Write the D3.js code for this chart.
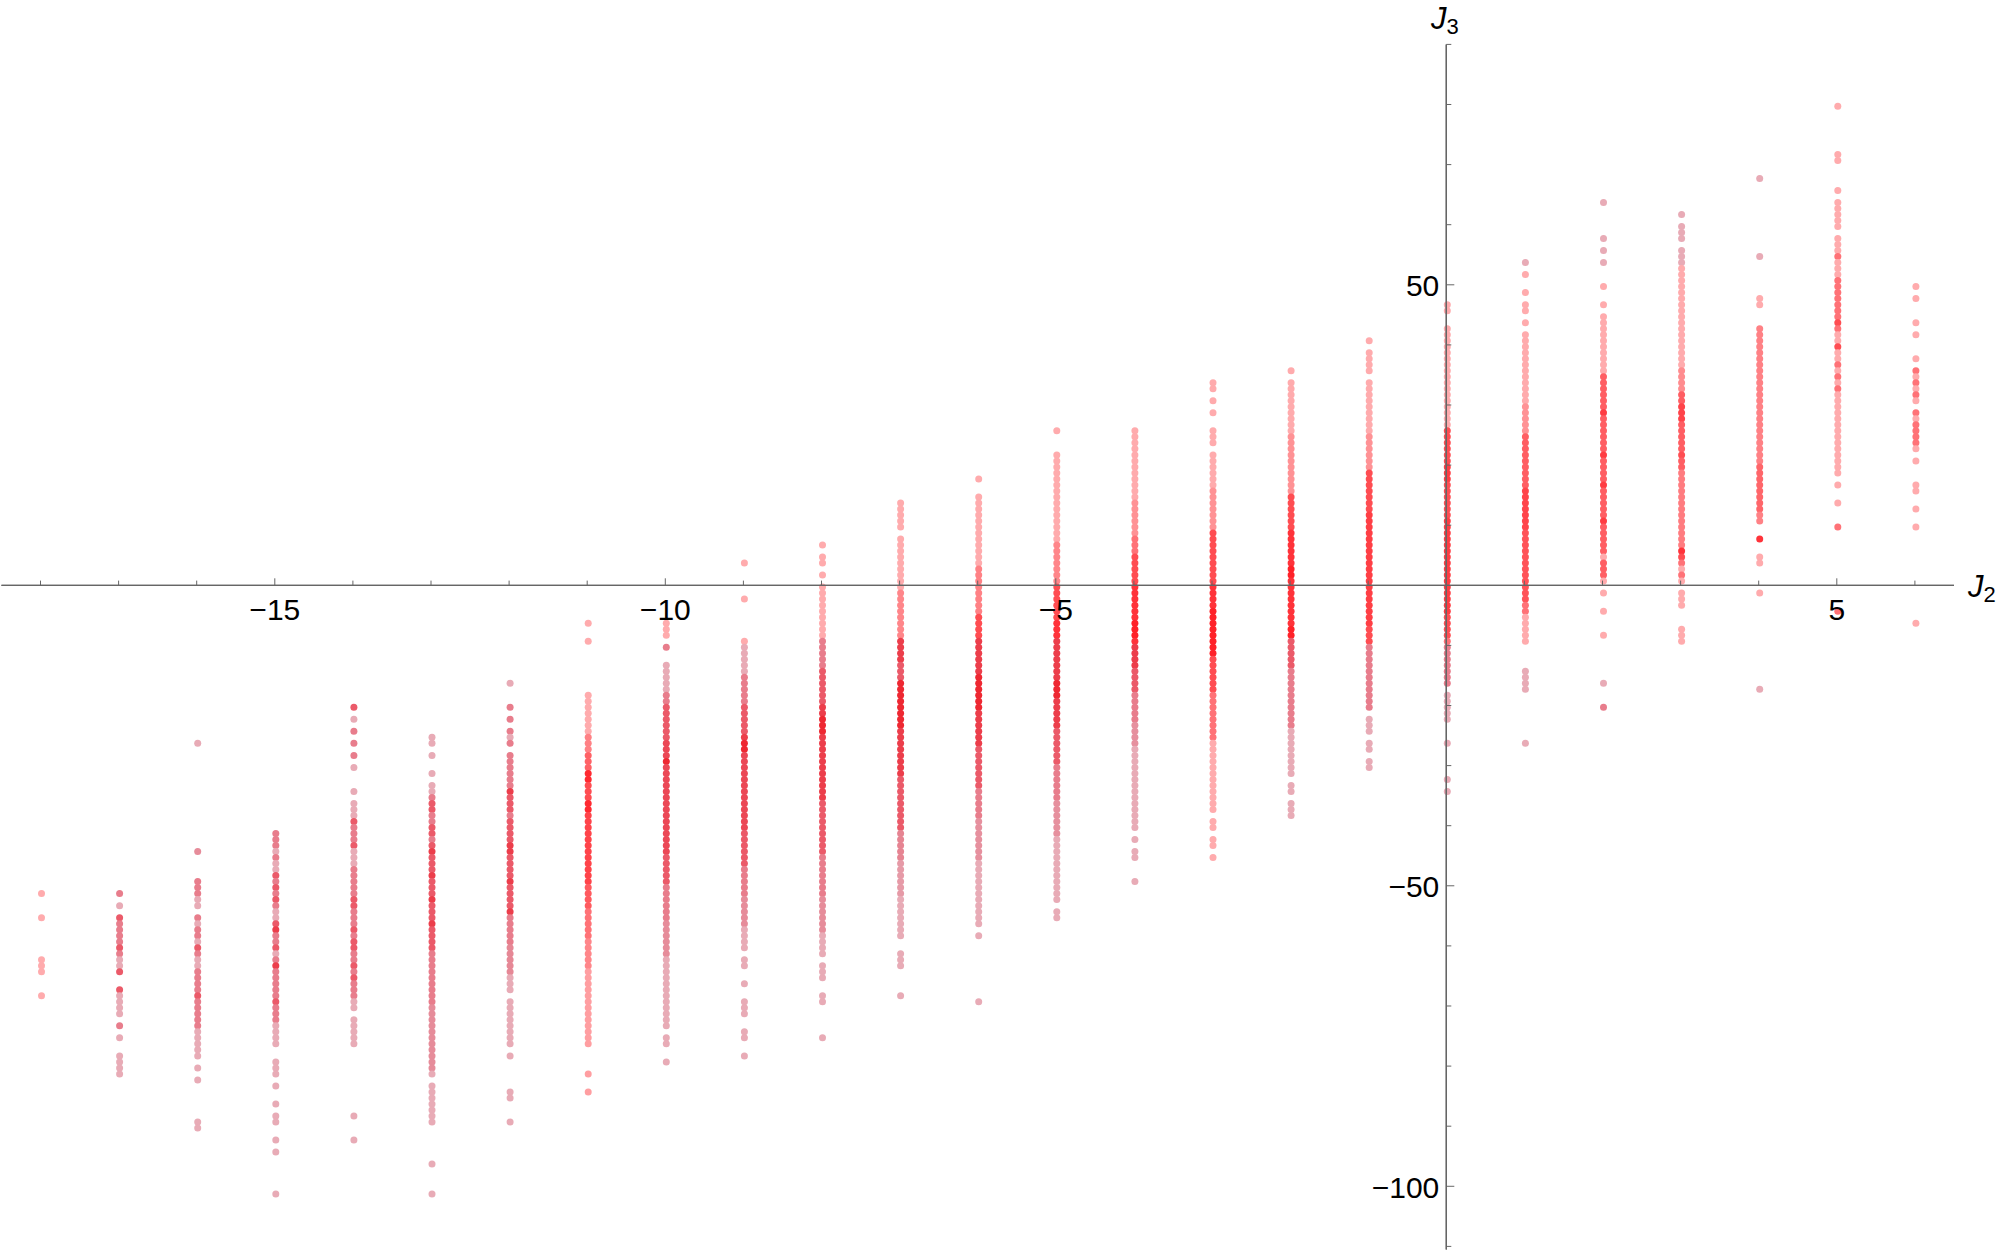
<!DOCTYPE html>
<html>
<head>
<meta charset="utf-8">
<script src="https://cdn.jsdelivr.net/npm/d3@7"></script>
<style>
  html, body { margin: 0; padding: 0; background: #fff; }
  text { font-family: "Liberation Sans", Arial, sans-serif; fill: #000; }
</style>
</head>
<body>
<svg id="chart" width="2000" height="1256"></svg>
<script>
var j2Values = [-18,-17,-16,-15,-14,-13,-12,-11,-10,-9,-8,-7,-6,-5,-4,-3,-2,-1,0,1,2,3,4,5,6];

var xMajor = [-15,-10,-5,5];
var xMinor = [-18,-17,-16,-14,-13,-12,-11,-9,-8,-7,-6,-4,-3,-2,-1,1,2,3,4,6];
var yMajor = [50,-50,-100];
var yMinor = [90,80,70,60,40,30,20,10,-10,-20,-30,-40,-60,-70,-80,-90,-110];

// J3 values seen in each J2 column
var j3_m18 = [-51,-55,-62,-63,-64,-68];
var j3_m17 = [-51,-53,-55,-56,-57,-58,-59,-60,-61,-62,-63,-64,-67,-68,-69,-70,-71,-73,-75,-78,-79,-80,-81];
var j3_m16 = [-26,-44,-49,-50,-51,-52,-53,-55,-56,-57,-58,-59,-60,-61,-62,-63,-64,-65,-66,-67,-68,-69,-70,-71,-72,-73,-74,-75,-76,-77,-78,-80,-82,-89,-90];
var j3_m15 = [-41,-42,-43,-44,-45,-46,-47,-48,-49,-50,-51,-52,-53,-54,-55,-56,-57,-58,-59,-60,-61,-62,-63,-64,-65,-66,-67,-68,-69,-70,-71,-72,-73,-74,-75,-76,-79,-80,-81,-83,-86,-88,-89,-92,-94,-101];
var j3_m14 = [-20,-22,-24,-26,-28,-30,-34,-36,-37,-38,-39,-40,-41,-42,-43,-44,-45,-46,-47,-48,-49,-50,-51,-52,-53,-54,-55,-56,-57,-58,-59,-60,-61,-62,-63,-64,-65,-66,-67,-68,-69,-70,-72,-73,-74,-75,-76,-88,-92];
var j3_m13 = [-25,-26,-28,-31,-33,-34,-35,-36,-37,-38,-39,-40,-41,-42,-43,-44,-45,-46,-47,-48,-49,-50,-51,-52,-53,-54,-55,-56,-57,-58,-59,-60,-61,-62,-63,-64,-65,-66,-67,-68,-69,-70,-71,-72,-73,-74,-75,-76,-77,-78,-79,-80,-81,-83,-84,-85,-86,-87,-88,-89,-96,-101];
var j3_m12 = [-16,-20,-22,-24,-25,-26,-28,-29,-30,-31,-32,-33,-34,-35,-36,-37,-38,-39,-40,-41,-42,-43,-44,-45,-46,-47,-48,-49,-50,-51,-52,-53,-54,-55,-56,-57,-58,-59,-60,-61,-62,-63,-64,-65,-66,-67,-69,-70,-71,-72,-73,-74,-75,-76,-78,-84,-85,-89];
var j3_m11 = [-6,-9,-18,-19,-20,-21,-22,-23,-24,-25,-26,-27,-28,-29,-30,-31,-32,-33,-34,-35,-36,-37,-38,-39,-40,-41,-42,-43,-44,-45,-46,-47,-48,-49,-50,-51,-52,-53,-54,-55,-56,-57,-58,-59,-60,-61,-62,-63,-64,-65,-66,-67,-68,-69,-70,-71,-72,-73,-74,-75,-76,-81,-84];
var j3_m10 = [-6,-7,-8,-10,-13,-14,-15,-16,-17,-18,-19,-20,-21,-22,-23,-24,-25,-26,-27,-28,-29,-30,-31,-32,-33,-34,-35,-36,-37,-38,-39,-40,-41,-42,-43,-44,-45,-46,-47,-48,-49,-50,-51,-52,-53,-54,-55,-56,-57,-58,-59,-60,-61,-62,-63,-64,-65,-66,-67,-68,-69,-70,-71,-72,-73,-75,-76,-79];
var j3_m9 = [4,-2,-9,-10,-11,-12,-13,-14,-15,-16,-17,-18,-19,-20,-21,-22,-23,-24,-25,-26,-27,-28,-29,-30,-31,-32,-33,-34,-35,-36,-37,-38,-39,-40,-41,-42,-43,-44,-45,-46,-47,-48,-49,-50,-51,-52,-53,-54,-55,-56,-57,-58,-59,-60,-62,-63,-66,-69,-70,-71,-74,-75,-78];
var j3_m8 = [7,5,4,2,0,-1,-2,-3,-4,-5,-6,-7,-8,-9,-10,-11,-12,-13,-14,-15,-16,-17,-18,-19,-20,-21,-22,-23,-24,-25,-26,-27,-28,-29,-30,-31,-32,-33,-34,-35,-36,-37,-38,-39,-40,-41,-42,-43,-44,-45,-46,-47,-48,-49,-50,-51,-52,-53,-54,-55,-56,-57,-58,-59,-60,-61,-63,-64,-65,-68,-69,-75];
var j3_m7 = [14,13,12,11,10,8,7,6,5,4,3,2,1,0,-1,-2,-3,-4,-5,-6,-7,-8,-9,-10,-11,-12,-13,-14,-15,-16,-17,-18,-19,-20,-21,-22,-23,-24,-25,-26,-27,-28,-29,-30,-31,-32,-33,-34,-35,-36,-37,-38,-39,-40,-41,-42,-43,-44,-45,-46,-47,-48,-49,-50,-51,-52,-53,-54,-55,-56,-57,-58,-61,-62,-63,-68];
var j3_m6 = [18,15,14,13,12,11,10,9,8,7,6,5,4,3,2,1,0,-1,-2,-3,-4,-5,-6,-7,-8,-9,-10,-11,-12,-13,-14,-15,-16,-17,-18,-19,-20,-21,-22,-23,-24,-25,-26,-27,-28,-29,-30,-31,-32,-33,-34,-35,-36,-37,-38,-39,-40,-41,-42,-43,-44,-45,-46,-47,-48,-49,-50,-51,-52,-53,-54,-55,-56,-58,-69];
var j3_m5 = [26,22,21,20,19,18,17,16,15,14,13,12,11,10,9,8,7,6,5,4,3,2,1,0,-1,-2,-3,-4,-5,-6,-7,-8,-9,-10,-11,-12,-13,-14,-15,-16,-17,-18,-19,-20,-21,-22,-23,-24,-25,-26,-27,-28,-29,-30,-31,-32,-33,-34,-35,-36,-37,-38,-39,-40,-41,-42,-43,-44,-45,-46,-47,-48,-49,-50,-51,-52,-54,-55];
var j3_m4 = [26,25,24,23,22,21,20,19,18,17,16,15,14,13,12,11,10,9,8,7,6,5,4,3,2,1,0,-1,-2,-3,-4,-5,-6,-7,-8,-9,-10,-11,-12,-13,-14,-15,-16,-17,-18,-19,-20,-21,-22,-23,-24,-25,-26,-27,-28,-29,-30,-31,-32,-33,-34,-35,-36,-37,-38,-39,-40,-42,-44,-45,-49];
var j3_m3 = [34,33,31,29,26,25,24,22,21,20,19,18,17,16,15,14,13,12,11,10,9,8,7,6,5,4,3,2,1,0,-1,-2,-3,-4,-5,-6,-7,-8,-9,-10,-11,-12,-13,-14,-15,-16,-17,-18,-19,-20,-21,-22,-23,-24,-25,-26,-27,-28,-29,-30,-31,-32,-33,-34,-35,-36,-37,-39,-40,-42,-43,-45];
var j3_m2 = [36,34,33,32,31,30,29,28,27,26,25,24,23,22,21,20,19,18,17,16,15,14,13,12,11,10,9,8,7,6,5,4,3,2,1,0,-1,-2,-3,-4,-5,-6,-7,-8,-9,-10,-11,-12,-13,-14,-15,-16,-17,-18,-19,-20,-21,-22,-23,-24,-25,-26,-27,-28,-29,-30,-31,-33,-34,-36,-37,-38];
var j3_m1 = [41,39,38,37,36,34,33,32,31,30,29,28,27,26,25,24,23,22,21,20,19,18,17,16,15,14,13,12,11,10,9,8,7,6,5,4,3,2,1,0,-1,-2,-3,-4,-5,-6,-7,-8,-9,-10,-11,-12,-13,-14,-15,-16,-17,-18,-19,-20,-22,-23,-24,-26,-27,-29,-30];
var j3_0 = [47,46,43,42,41,40,39,38,37,36,35,34,33,32,31,30,29,28,27,26,25,24,23,22,21,20,19,18,17,16,15,14,13,12,11,10,9,8,7,6,5,4,3,2,1,0,-1,-2,-3,-4,-5,-6,-7,-8,-9,-10,-11,-12,-13,-14,-15,-16,-18,-19,-20,-21,-22,-26,-32,-34];
var j3_1 = [54,52,49,47,46,44,42,41,40,39,38,37,36,35,34,33,32,31,30,29,28,27,26,25,24,23,22,21,20,19,18,17,16,15,14,13,12,11,10,9,8,7,6,5,4,3,2,1,0,-1,-2,-3,-4,-5,-6,-7,-8,-9,-14,-15,-16,-17,-26];
var j3_2 = [64,58,56,54,50,47,45,44,43,42,41,40,39,38,37,36,35,34,33,32,31,30,29,28,27,26,25,24,23,22,21,20,19,18,17,16,15,14,13,12,11,10,9,8,7,6,5,4,3,2,1,-1,-4,-8,-16,-20];
var j3_3 = [62,60,59,58,56,55,54,53,52,51,50,49,48,47,46,45,44,43,42,41,40,39,38,37,36,35,34,33,32,31,30,29,28,27,26,25,24,23,22,21,20,19,18,17,16,15,14,13,12,11,10,9,8,7,6,5,4,3,2,1,-1,-2,-3,-7,-8,-9];
var j3_4 = [68,55,48,47,43,42,41,40,39,38,37,36,35,34,33,32,31,30,29,28,27,26,25,24,23,22,21,20,19,18,17,16,15,14,13,12,11,8,5,4,-1,-17];
var j3_5 = [80,72,71,66,64,63,62,61,60,58,57,56,55,54,53,52,51,50,49,48,47,46,45,44,43,42,41,40,39,38,37,36,35,34,33,32,31,30,29,28,27,26,25,24,23,22,21,20,19,17,14,10,-4];
var j3_6 = [50,48,44,42,38,36,35,34,33,32,31,29,28,27,26,25,24,23,21,17,16,13,10,-6];

var j3Columns = [j3_m18,j3_m17,j3_m16,j3_m15,j3_m14,j3_m13,j3_m12,j3_m11,j3_m10,j3_m9,j3_m8,j3_m7,j3_m6,j3_m5,j3_m4,j3_m3,j3_m2,j3_m1,j3_0,j3_1,j3_2,j3_3,j3_4,j3_5,j3_6];

// estimated pile-up from the depth of colour: [from this J3 downward, amount]
var pile_m18 = [[-51,1]];
var pile_m17 = [[-51,2],[-53,1],[-55,3],[-56,2],[-60,3],[-61,2],[-62,1],[-64,3],[-68,1],[-73,2],[-75,1]];
var pile_m16 = [[-26,1],[-44,1.6],[-49,2],[-52,1],[-55,2],[-56,1],[-57,2],[-59,1],[-60,3],[-61,2],[-62,1],[-64,2],[-68,3],[-69,2],[-74,1]];
var pile_m15 = [[-41,2],[-44,1],[-45,2],[-46,1],[-48,3],[-49,2],[-50,3],[-51,2],[-52,3],[-53,2],[-54,1],[-56,3],[-57,4],[-58,2],[-60,3],[-61,1],[-62,2],[-63,4],[-64,2],[-69,3],[-70,2],[-73,1]];
var pile_m14 = [[-20,3],[-22,1],[-24,2],[-30,1],[-39,3],[-40,2],[-43,3],[-44,1],[-47,2],[-52,3],[-54,2],[-57,3],[-58,2],[-59,3],[-61,2],[-63,3],[-64,2],[-65,3],[-66,2],[-69,1]];
var pile_m13 = [[-25,1],[-35,2],[-36,3],[-38,2],[-40,3],[-42,2],[-43,3],[-44,4],[-45,3],[-48,4],[-49,3],[-52,4],[-53,3],[-56,4],[-57,3],[-61,2],[-70,1.6],[-81,1]];
var pile_m12 = [[-16,1],[-20,2],[-25,1],[-26,2],[-34,4],[-35,3],[-38,2],[-39,3],[-43,4],[-45,3],[-49,4],[-50,3],[-54,4],[-55,2],[-60,1.7],[-65,1]];
var pile_m11 = [[-6,1],[-25,1.7],[-28,2.4],[-31,4.5],[-33,3],[-36,4.5],[-38,3.3],[-50,2.6],[-54,2],[-59,1.6],[-64,1.2]];
var pile_m10 = [[-6,1],[-10,2],[-13,1],[-18,2],[-20,3],[-26,3.6],[-29,5],[-30,3.6],[-45,3],[-50,2],[-56,1.6],[-62,1]];
var pile_m9 = [[4,1],[-15,2],[-20,3],[-25,4],[-26,5],[-28,3.6],[-41,3],[-47,2],[-52,1.6],[-57,1]];
var pile_m8 = [[7,1],[-9,2],[-14,3],[-20,4],[-22,5],[-25,4],[-36,3],[-45,2],[-52,1.6],[-58,1]];
var pile_m7 = [[14,1],[-1,1.6],[-9,4],[-13,3],[-16,5],[-24,4],[-32,3],[-41,1.8],[-46,1.3],[-52,1]];
var pile_m6 = [[18,1],[3,1.7],[-5,3],[-9,4],[-15,5],[-21,4],[-27,3],[-34,2],[-39,1.5],[-46,1]];
var pile_m5 = [[26,1],[7,1.6],[0,3],[-6,4],[-16,5],[-19,4],[-24,3],[-30,2],[-36,1.5],[-42,1]];
var pile_m4 = [[26,1],[14,1.4],[8,2],[5,3],[0,4],[-6,5],[-9,4],[-14,3],[-18,2],[-23,1.5],[-27,1]];
var pile_m3 = [[34,1],[16,1.4],[9,3],[0,4],[-4,5],[-12,3],[-18,2],[-26,1]];
var pile_m2 = [[36,1],[25,1.4],[15,3],[9,4],[3,5],[1,4],[-7,5],[-9,3],[-14,2],[-24,1]];
var pile_m1 = [[41,1],[25,1.4],[19,3],[12,3.5],[-7,3],[-10,2],[-21,1]];
var pile_0 = [[47,1],[26,3],[20,3.6],[17,3],[11,3.6],[-5,3],[-9,2],[-17,1]];
var pile_1 = [[54,1],[30,1.4],[25,2.5],[16,3.3],[9,2.8],[-3,2],[-5,1]];
var pile_2 = [[64,1],[35,2.5],[29,3.6],[28,2.5],[22,3.6],[21,2.5],[17,3.6],[16,2.5],[11,3.6],[10,2.5],[5,1],[4,2.5],[1,1],[-20,2]];
var pile_3 = [[62,1],[36,1.5],[32,2.5],[30,3.3],[27,2.5],[22,3],[21,2.5],[19,1.8],[6,4],[5,3],[4,2],[3,1],[2,2],[1,1]];
var pile_4 = [[68,1],[43,1.7],[20,2.3],[12,1.7],[8,4],[5,1]];
var pile_5 = [[80,1],[55,2],[54,1],[51,2],[44,3],[43,2],[42,1],[40,3],[39,1],[37,2],[36,1],[35,2],[34,1],[33,2],[32,1],[10,2]];
var pile_6 = [[50,1],[36,2],[35,1],[34,2],[33,1],[32,2],[31,1],[29,2],[28,1],[27,2],[23,1]];

var pileColumns = [pile_m18,pile_m17,pile_m16,pile_m15,pile_m14,pile_m13,pile_m12,pile_m11,pile_m10,pile_m9,pile_m8,pile_m7,pile_m6,pile_m5,pile_m4,pile_m3,pile_m2,pile_m1,pile_0,pile_1,pile_2,pile_3,pile_4,pile_5,pile_6];

// points outside these J3 limits are the duller kind
var dullBelow = [-200,200,200,200,200,200,200,-200,-9,-9,-8,-8,-8,-8,-9,-200,-8,-9,-9,-10,-9,-200,-9,-200,-200];
var dullAbove = [200,200,200,200,200,200,200,200,200,200,200,200,200,200,200,200,200,200,200,53,52,53,49,200,200];

function pileAt(pile, v) {
  var n = 1;
  pile.forEach(function(p) { if (v <= p[0]) n = p[1]; });
  return n;
}

var points = [];
j2Values.forEach(function(j2, i) {
  j3Columns[i].forEach(function(j3) {
    points.push({
      j2: j2,
      j3: j3,
      n: pileAt(pileColumns[i], j3),
      dull: j3 < dullBelow[i] || j3 > dullAbove[i]
    });
  });
});

var x = d3.scaleLinear().domain([-18.5, 6.5]).range([1.45, 1953.95]);
var y = d3.scaleLinear().domain([-110.5, 90]).range([1249.4, 44.4]);

var dullColor = d3.scaleLinear().domain([1,2,3,5]).range(["#b90021","#d5132e","#e21329","#eb0612"]);

function dotColor(d) {
  var base = d.dull ? dullColor(d.n) : "#ff0008";
  return d3.interpolateRgb("#fff", base)(1 - Math.pow(0.67, d.n));
}

var svg = d3.select("#chart");

// points sit a little off the axis origin in the source plot
svg.append("g")
  .attr("transform", "translate(1,1.8)")
  .selectAll("circle")
  .data(points)
  .enter()
  .append("circle")
  .attr("cx", function(d) { return x(d.j2); })
  .attr("cy", function(d) { return y(d.j3); })
  .attr("r", 3.5)
  .attr("fill", dotColor);

function fmt(d) { return String(d).replace("-", "\u2212"); }

var xAxisY = y(0), yAxisX = x(0);

var xMinorAxis = d3.axisBottom(x).tickValues(xMinor).tickSizeInner(-4.7).tickSizeOuter(0).tickFormat("").offset(0);
var xMajorAxis = d3.axisBottom(x).tickValues(xMajor).tickSizeInner(-7).tickSizeOuter(0).tickPadding(13.5).tickFormat(fmt).offset(0);
var yMinorAxis = d3.axisLeft(y).tickValues(yMinor).tickSizeInner(-5).tickSizeOuter(0).tickFormat("").offset(0);
var yMajorAxis = d3.axisLeft(y).tickValues(yMajor).tickSizeInner(-8).tickSizeOuter(0).tickPadding(7).tickFormat(fmt).offset(0);

function drawAxis(axis, t) {
  var g = svg.append("g").attr("transform", t).call(axis);
  g.selectAll("path").attr("stroke", "#666").attr("stroke-width", 1.3);
  g.selectAll("line").attr("stroke", "#666").attr("stroke-width", 1);
  g.selectAll("text").attr("font-size", 30).attr("fill", "#000").attr("font-family", '"Liberation Sans", Arial, sans-serif');
  return g;
}

drawAxis(xMinorAxis, "translate(0," + xAxisY + ")");
drawAxis(xMajorAxis, "translate(0," + xAxisY + ")");
drawAxis(yMinorAxis, "translate(" + yAxisX + ",0)");
drawAxis(yMajorAxis, "translate(" + yAxisX + ",0)").selectAll("text").attr("dy", "0.38em");

// axis names
var j3Label = svg.append("text").attr("x", 1431).attr("y", 28.5).attr("font-size", 31);
j3Label.append("tspan").attr("font-style", "italic").text("J");
j3Label.append("tspan").attr("font-size", 22).attr("dy", 5).text("3");

var j2Label = svg.append("text").attr("x", 1968).attr("y", 596.5).attr("font-size", 31);
j2Label.append("tspan").attr("font-style", "italic").text("J");
j2Label.append("tspan").attr("font-size", 22).attr("dy", 5).text("2");
</script>
</body>
</html>
